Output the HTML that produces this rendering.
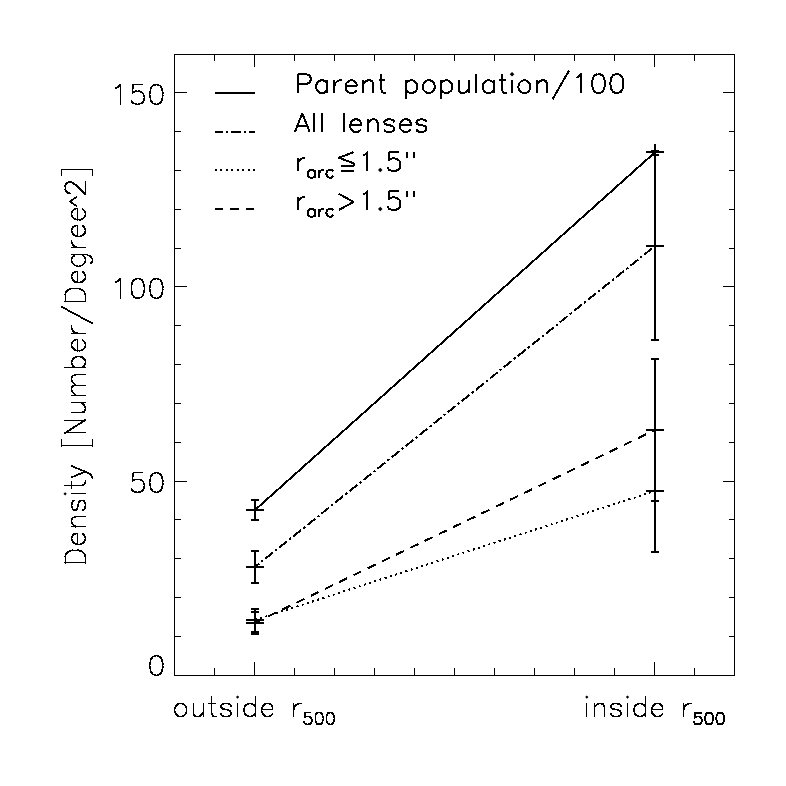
<!DOCTYPE html>
<html lang="en"><head><meta charset="utf-8"><title>Density vs r500</title>
<style>
html,body{margin:0;padding:0;background:#fff;}
body{width:786px;height:786px;overflow:hidden;font-family:"Liberation Sans",sans-serif;}
svg{display:block;}
svg text{font-family:"Liberation Sans",sans-serif;fill:#000;fill-opacity:0;stroke:none;}
</style></head><body>
<svg width="786" height="786" viewBox="0 0 786 786" role="img" aria-label="Density [Number/Degree^2] outside versus inside r500">
<rect width="786" height="786" fill="#fff"/>
<g stroke="#000" stroke-width="1" fill="none" shape-rendering="crispEdges">
<rect x="174.5" y="54.5" width="560.0" height="621.0"/>
<path d="M214.5 675.5 v-8 M214.5 54.5 v6 M254.5 675.5 v-14 M254.5 54.5 v12 M294.5 675.5 v-8 M294.5 54.5 v6 M334.5 675.5 v-8 M334.5 54.5 v6 M374.5 675.5 v-8 M374.5 54.5 v6 M414.5 675.5 v-8 M414.5 54.5 v6 M454.5 675.5 v-8 M454.5 54.5 v6 M494.5 675.5 v-8 M494.5 54.5 v6 M534.5 675.5 v-8 M534.5 54.5 v6 M574.5 675.5 v-8 M574.5 54.5 v6 M614.5 675.5 v-8 M614.5 54.5 v6 M654.5 675.5 v-14 M654.5 54.5 v12 M694.5 675.5 v-8 M694.5 54.5 v6 M174.5 636.5 h6 M734.5 636.5 h-6 M174.5 597.5 h6 M734.5 597.5 h-6 M174.5 558.5 h6 M734.5 558.5 h-6 M174.5 519.5 h6 M734.5 519.5 h-6 M174.5 481.5 h12 M734.5 481.5 h-12 M174.5 442.5 h6 M734.5 442.5 h-6 M174.5 403.5 h6 M734.5 403.5 h-6 M174.5 364.5 h6 M734.5 364.5 h-6 M174.5 325.5 h6 M734.5 325.5 h-6 M174.5 286.5 h12 M734.5 286.5 h-12 M174.5 248.5 h6 M734.5 248.5 h-6 M174.5 209.5 h6 M734.5 209.5 h-6 M174.5 170.5 h6 M734.5 170.5 h-6 M174.5 131.5 h6 M734.5 131.5 h-6 M174.5 92.5 h12 M734.5 92.5 h-12"/>
</g>
<g stroke="#000" stroke-width="2" fill="none" shape-rendering="crispEdges">
<path d="M255 510.0 L655 152.3"/>
<path d="M255 567.0 L655 246.0" stroke-dasharray="10 2.8 2.4 2.8" stroke-dashoffset="4.9"/>
<path d="M255 622.7 L655 430.0" stroke-dasharray="8.8 7" stroke-dashoffset="1.35"/>
<path d="M255 620.0 L655 491.0" stroke-dasharray="2 3.45" stroke-dashoffset="0"/>
<path d="M215 93 H255"/>
<path d="M215 132 H255" stroke-dasharray="10 2.8 2.4 2.8" stroke-dashoffset="2.2"/>
<path d="M215 170 H255" stroke-dasharray="2 3.45" stroke-dashoffset="0"/>
<path d="M215 209 H255" stroke-dasharray="8.8 7" stroke-dashoffset="1"/>
<path d="M246 510.0 h18 M255 502.0 v16 M255 500.0 V520.0 M251 500.0 h8 M251 520.0 h8 M646 152.3 h18 M655 144.3 v16 M655 150.70000000000002 V154.9 M651 150.70000000000002 h8 M651 154.9 h8 M246 567.0 h18 M255 559.0 v16 M255 550.7 V583.3 M251 550.7 h8 M251 583.3 h8 M646 246.0 h18 M655 238.0 v16 M655 152.0 V340.0 M651 152.0 h8 M651 340.0 h8 M246 622.7 h18 M255 614.7 v16 M255 611.9000000000001 V634.1 M251 611.9000000000001 h8 M251 634.1 h8 M646 430.0 h18 M655 422.0 v16 M655 359.0 V501.0 M651 359.0 h8 M651 501.0 h8 M246 620.0 h18 M255 612.0 v16 M255 608.6 V632.2 M251 608.6 h8 M251 632.2 h8 M646 491.0 h18 M655 483.0 v16 M655 430.0 V552.0 M651 430.0 h8 M651 552.0 h8"/>
</g>
<g stroke="#000" fill="none" stroke-linecap="square" stroke-linejoin="round" shape-rendering="crispEdges">
<path d="M114.97 87.7 116.83 86.77 118.17 86.77 118.17 88.12 116.32 89.05 114.97 89.05zM116.83 86.77 119.6 84 120.95 84 120.95 85.35 118.17 88.12 116.83 88.12zM119.83 84 121.17 84 121.17 104.77 119.83 104.77zM132.55 83.83 143.15 83.83 143.15 85.17 132.55 85.17zM131.62 92.33 132.55 84 133.9 84 133.9 85.35 132.97 93.67 131.62 93.67zM131.62 92.33 132.55 91.4 133.9 91.4 133.9 92.75 132.97 93.67 131.62 93.67zM132.55 91.4 135.32 90.47 136.68 90.47 136.68 91.82 133.9 92.75 132.55 92.75zM135.32 90.83 139.45 90.83 139.45 92.17 135.32 92.17zM138.1 90.47 139.45 90.47 142.23 91.4 142.23 92.75 140.88 92.75 138.1 91.82zM140.88 91.4 142.23 91.4 144.07 93.25 144.07 94.6 142.72 94.6 140.88 92.75zM142.72 93.25 144.07 93.25 145 96.02 145 97.37 143.65 97.37 142.72 94.6zM143.82 96.02 145.18 96.02 145.18 99.22 143.82 99.22zM142.72 100.65 143.65 97.88 145 97.88 145 99.22 144.07 102 142.72 102zM140.88 102.5 142.72 100.65 144.07 100.65 144.07 102 142.23 103.85 140.88 103.85zM138.1 103.42 140.88 102.5 142.23 102.5 142.23 103.85 139.45 104.77 138.1 104.77zM135.32 103.83 139.45 103.83 139.45 105.17 135.32 105.17zM132.55 102.5 133.9 102.5 136.68 103.42 136.68 104.77 135.32 104.77 132.55 103.85zM131.62 101.58 132.97 101.58 133.9 102.5 133.9 103.85 132.55 103.85 131.62 102.92zM130.7 99.72 132.05 99.72 132.97 101.58 132.97 102.92 131.62 102.92 130.7 101.07zM151.97 84.92 154.75 84 156.1 84 156.1 85.35 153.32 86.27 151.97 86.27zM150.12 87.7 151.97 84.92 153.32 84.92 153.32 86.27 151.48 89.05 150.12 89.05zM149.2 92.33 150.12 87.7 151.48 87.7 151.48 89.05 150.55 93.67 149.2 93.67zM148.82 92.33 150.18 92.33 150.18 96.45 148.82 96.45zM149.2 95.1 150.55 95.1 151.48 99.72 151.48 101.07 150.12 101.07 149.2 96.45zM150.12 99.72 151.48 99.72 153.32 102.5 153.32 103.85 151.97 103.85 150.12 101.07zM151.97 102.5 153.32 102.5 156.1 103.42 156.1 104.77 154.75 104.77 151.97 103.85zM154.75 103.83 157.95 103.83 157.95 105.17 154.75 105.17zM156.6 103.42 159.38 102.5 160.73 102.5 160.73 103.85 157.95 104.77 156.6 104.77zM159.38 102.5 161.22 99.72 162.57 99.72 162.57 101.07 160.73 103.85 159.38 103.85zM161.22 99.72 162.15 95.1 163.5 95.1 163.5 96.45 162.57 101.07 161.22 101.07zM161.82 92.33 163.18 92.33 163.18 96.45 161.82 96.45zM161.22 87.7 162.57 87.7 163.5 92.33 163.5 93.67 162.15 93.67 161.22 89.05zM159.38 84.92 160.73 84.92 162.57 87.7 162.57 89.05 161.22 89.05 159.38 86.27zM156.6 84 157.95 84 160.73 84.92 160.73 86.27 159.38 86.27 156.6 85.35zM154.75 83.83 157.95 83.83 157.95 85.17 154.75 85.17z" fill="#000" stroke="none"/>
<path d="M114.97 281.7 116.83 280.78 118.17 280.78 118.17 282.13 116.32 283.05 114.97 283.05zM116.83 280.78 119.6 278 120.95 278 120.95 279.35 118.17 282.13 116.83 282.13zM119.83 278 121.17 278 121.17 298.78 119.83 298.78zM133.47 278.93 136.25 278 137.6 278 137.6 279.35 134.83 280.28 133.47 280.28zM131.62 281.7 133.47 278.93 134.83 278.93 134.83 280.28 132.97 283.05 131.62 283.05zM130.7 286.32 131.62 281.7 132.97 281.7 132.97 283.05 132.05 287.68 130.7 287.68zM130.82 286.32 132.18 286.32 132.18 290.45 130.82 290.45zM130.7 289.1 132.05 289.1 132.97 293.73 132.97 295.08 131.62 295.08 130.7 290.45zM131.62 293.73 132.97 293.73 134.83 296.5 134.83 297.85 133.47 297.85 131.62 295.08zM133.47 296.5 134.83 296.5 137.6 297.43 137.6 298.78 136.25 298.78 133.47 297.85zM136.25 297.82 139.45 297.82 139.45 299.18 136.25 299.18zM138.1 297.43 140.88 296.5 142.23 296.5 142.23 297.85 139.45 298.78 138.1 298.78zM140.88 296.5 142.72 293.73 144.07 293.73 144.07 295.08 142.23 297.85 140.88 297.85zM142.72 293.73 143.65 289.1 145 289.1 145 290.45 144.07 295.08 142.72 295.08zM143.82 286.32 145.18 286.32 145.18 290.45 143.82 290.45zM142.72 281.7 144.07 281.7 145 286.32 145 287.68 143.65 287.68 142.72 283.05zM140.88 278.93 142.23 278.93 144.07 281.7 144.07 283.05 142.72 283.05 140.88 280.28zM138.1 278 139.45 278 142.23 278.93 142.23 280.28 140.88 280.28 138.1 279.35zM136.25 277.82 139.45 277.82 139.45 279.18 136.25 279.18zM151.97 278.93 154.75 278 156.1 278 156.1 279.35 153.32 280.28 151.97 280.28zM150.12 281.7 151.97 278.93 153.32 278.93 153.32 280.28 151.48 283.05 150.12 283.05zM149.2 286.32 150.12 281.7 151.48 281.7 151.48 283.05 150.55 287.68 149.2 287.68zM148.82 286.32 150.18 286.32 150.18 290.45 148.82 290.45zM149.2 289.1 150.55 289.1 151.48 293.73 151.48 295.08 150.12 295.08 149.2 290.45zM150.12 293.73 151.48 293.73 153.32 296.5 153.32 297.85 151.97 297.85 150.12 295.08zM151.97 296.5 153.32 296.5 156.1 297.43 156.1 298.78 154.75 298.78 151.97 297.85zM154.75 297.82 157.95 297.82 157.95 299.18 154.75 299.18zM156.6 297.43 159.38 296.5 160.73 296.5 160.73 297.85 157.95 298.78 156.6 298.78zM159.38 296.5 161.22 293.73 162.57 293.73 162.57 295.08 160.73 297.85 159.38 297.85zM161.22 293.73 162.15 289.1 163.5 289.1 163.5 290.45 162.57 295.08 161.22 295.08zM161.82 286.32 163.18 286.32 163.18 290.45 161.82 290.45zM161.22 281.7 162.57 281.7 163.5 286.32 163.5 287.68 162.15 287.68 161.22 283.05zM159.38 278.93 160.73 278.93 162.57 281.7 162.57 283.05 161.22 283.05 159.38 280.28zM156.6 278 157.95 278 160.73 278.93 160.73 280.28 159.38 280.28 156.6 279.35zM154.75 277.82 157.95 277.82 157.95 279.18 154.75 279.18z" fill="#000" stroke="none"/>
<path d="M132.55 471.82 143.15 471.82 143.15 473.18 132.55 473.18zM131.62 480.42 132.55 472.1 133.9 472.1 133.9 473.45 132.97 481.77 131.62 481.77zM131.62 480.42 132.55 479.5 133.9 479.5 133.9 480.85 132.97 481.77 131.62 481.77zM132.55 479.5 135.32 478.57 136.68 478.57 136.68 479.93 133.9 480.85 132.55 480.85zM135.32 478.82 139.45 478.82 139.45 480.18 135.32 480.18zM138.1 478.57 139.45 478.57 142.22 479.5 142.22 480.85 140.87 480.85 138.1 479.93zM140.87 479.5 142.22 479.5 144.08 481.35 144.08 482.7 142.72 482.7 140.87 480.85zM142.72 481.35 144.08 481.35 145 484.12 145 485.48 143.65 485.48 142.72 482.7zM143.82 484.12 145.18 484.12 145.18 487.32 143.82 487.32zM142.72 488.75 143.65 485.97 145 485.97 145 487.32 144.08 490.1 142.72 490.1zM140.87 490.6 142.72 488.75 144.08 488.75 144.08 490.1 142.22 491.95 140.87 491.95zM138.1 491.52 140.87 490.6 142.22 490.6 142.22 491.95 139.45 492.88 138.1 492.88zM135.32 491.82 139.45 491.82 139.45 493.18 135.32 493.18zM132.55 490.6 133.9 490.6 136.68 491.52 136.68 492.88 135.32 492.88 132.55 491.95zM131.62 489.67 132.97 489.67 133.9 490.6 133.9 491.95 132.55 491.95 131.62 491.02zM130.7 487.82 132.05 487.82 132.97 489.67 132.97 491.02 131.62 491.02 130.7 489.18zM151.97 473.02 154.75 472.1 156.1 472.1 156.1 473.45 153.33 474.38 151.97 474.38zM150.12 475.8 151.97 473.02 153.33 473.02 153.33 474.38 151.47 477.15 150.12 477.15zM149.2 480.42 150.12 475.8 151.47 475.8 151.47 477.15 150.55 481.77 149.2 481.77zM148.82 480.42 150.18 480.42 150.18 484.55 148.82 484.55zM149.2 483.2 150.55 483.2 151.47 487.82 151.47 489.18 150.12 489.18 149.2 484.55zM150.12 487.82 151.47 487.82 153.33 490.6 153.33 491.95 151.97 491.95 150.12 489.18zM151.97 490.6 153.33 490.6 156.1 491.52 156.1 492.88 154.75 492.88 151.97 491.95zM154.75 491.82 157.95 491.82 157.95 493.18 154.75 493.18zM156.6 491.52 159.38 490.6 160.73 490.6 160.73 491.95 157.95 492.88 156.6 492.88zM159.38 490.6 161.22 487.82 162.57 487.82 162.57 489.18 160.73 491.95 159.38 491.95zM161.22 487.82 162.15 483.2 163.5 483.2 163.5 484.55 162.57 489.18 161.22 489.18zM161.82 480.42 163.18 480.42 163.18 484.55 161.82 484.55zM161.22 475.8 162.57 475.8 163.5 480.42 163.5 481.77 162.15 481.77 161.22 477.15zM159.38 473.02 160.73 473.02 162.57 475.8 162.57 477.15 161.22 477.15 159.38 474.38zM156.6 472.1 157.95 472.1 160.73 473.02 160.73 474.38 159.38 474.38 156.6 473.45zM154.75 471.82 157.95 471.82 157.95 473.18 154.75 473.18z" fill="#000" stroke="none"/>
<path d="M151.97 656.03 154.75 655.1 156.1 655.1 156.1 656.45 153.33 657.38 151.97 657.38zM150.12 658.8 151.97 656.03 153.33 656.03 153.33 657.38 151.47 660.15 150.12 660.15zM149.2 663.43 150.12 658.8 151.47 658.8 151.47 660.15 150.55 664.77 149.2 664.77zM148.82 663.43 150.18 663.43 150.18 667.55 148.82 667.55zM149.2 666.2 150.55 666.2 151.47 670.83 151.47 672.17 150.12 672.17 149.2 667.55zM150.12 670.83 151.47 670.83 153.33 673.6 153.33 674.95 151.97 674.95 150.12 672.17zM151.97 673.6 153.33 673.6 156.1 674.53 156.1 675.88 154.75 675.88 151.97 674.95zM154.75 674.83 157.95 674.83 157.95 676.17 154.75 676.17zM156.6 674.53 159.37 673.6 160.72 673.6 160.72 674.95 157.95 675.88 156.6 675.88zM159.37 673.6 161.22 670.83 162.58 670.83 162.58 672.17 160.72 674.95 159.37 674.95zM161.22 670.83 162.15 666.2 163.5 666.2 163.5 667.55 162.58 672.17 161.22 672.17zM161.82 663.43 163.18 663.43 163.18 667.55 161.82 667.55zM161.22 658.8 162.58 658.8 163.5 663.43 163.5 664.77 162.15 664.77 161.22 660.15zM159.37 656.03 160.72 656.03 162.58 658.8 162.58 660.15 161.22 660.15 159.37 657.38zM156.6 655.1 157.95 655.1 160.72 656.03 160.72 657.38 159.37 657.38 156.6 656.45zM154.75 654.83 157.95 654.83 157.95 656.17 154.75 656.17z" fill="#000" stroke="none"/>
<path d="M176.77 703.8 178.62 702.88 179.97 702.88 179.97 704.22 178.12 705.15 176.77 705.15zM174.92 705.65 176.77 703.8 178.12 703.8 178.12 705.15 176.27 707 174.92 707zM174 708.43 174.92 705.65 176.27 705.65 176.27 707 175.35 709.77 174 709.77zM173.82 708.43 175.18 708.43 175.18 711.62 173.82 711.62zM174 710.28 175.35 710.28 176.27 713.05 176.27 714.4 174.92 714.4 174 711.62zM174.92 713.05 176.27 713.05 178.12 714.9 178.12 716.25 176.77 716.25 174.92 714.4zM176.77 714.9 178.12 714.9 179.97 715.83 179.97 717.17 178.62 717.17 176.77 716.25zM178.62 715.83 182.75 715.83 182.75 717.17 178.62 717.17zM181.4 715.83 183.25 714.9 184.6 714.9 184.6 716.25 182.75 717.17 181.4 717.17zM183.25 714.9 185.1 713.05 186.45 713.05 186.45 714.4 184.6 716.25 183.25 716.25zM185.1 713.05 186.02 710.28 187.37 710.28 187.37 711.62 186.45 714.4 185.1 714.4zM185.82 708.43 187.18 708.43 187.18 711.62 185.82 711.62zM185.1 705.65 186.45 705.65 187.37 708.43 187.37 709.77 186.02 709.77 185.1 707zM183.25 703.8 184.6 703.8 186.45 705.65 186.45 707 185.1 707 183.25 705.15zM181.4 702.88 182.75 702.88 184.6 703.8 184.6 705.15 183.25 705.15 181.4 704.22zM178.62 702.83 182.75 702.83 182.75 704.17 178.62 704.17zM192.82 702.88 194.18 702.88 194.18 713.47 192.82 713.47zM192.5 712.12 193.85 712.12 194.77 714.9 194.77 716.25 193.42 716.25 192.5 713.47zM193.42 714.9 194.77 714.9 196.62 715.83 196.62 717.17 195.27 717.17 193.42 716.25zM195.27 715.83 199.4 715.83 199.4 717.17 195.27 717.17zM198.05 715.83 199.9 714.9 201.25 714.9 201.25 716.25 199.4 717.17 198.05 717.17zM199.9 714.9 202.67 712.12 204.02 712.12 204.02 713.47 201.25 716.25 199.9 716.25zM202.82 702.88 204.18 702.88 204.18 717.17 202.82 717.17zM210.82 696.4 212.18 696.4 212.18 713.47 210.82 713.47zM211 712.12 212.35 712.12 213.27 714.9 213.27 716.25 211.92 716.25 211 713.47zM211.92 714.9 213.27 714.9 215.12 715.83 215.12 717.17 213.77 717.17 211.92 716.25zM213.77 715.83 216.97 715.83 216.97 717.17 213.77 717.17zM208.22 702.83 216.05 702.83 216.05 704.17 208.22 704.17zM229.5 703.8 230.85 703.8 231.77 705.65 231.77 707 230.42 707 229.5 705.15zM226.72 702.88 228.07 702.88 230.85 703.8 230.85 705.15 229.5 705.15 226.72 704.22zM223.95 702.83 228.07 702.83 228.07 704.17 223.95 704.17zM221.17 703.8 223.95 702.88 225.3 702.88 225.3 704.22 222.52 705.15 221.17 705.15zM220.25 705.65 221.17 703.8 222.52 703.8 222.52 705.15 221.6 707 220.25 707zM220.25 705.65 221.6 705.65 222.52 707.5 222.52 708.85 221.17 708.85 220.25 707zM221.17 707.5 222.52 707.5 224.37 708.43 224.37 709.77 223.02 709.77 221.17 708.85zM223.02 708.43 224.37 708.43 229 709.35 229 710.7 227.65 710.7 223.02 709.77zM227.65 709.35 229 709.35 230.85 710.28 230.85 711.62 229.5 711.62 227.65 710.7zM229.5 710.28 230.85 710.28 231.77 712.12 231.77 713.47 230.42 713.47 229.5 711.62zM230.82 712.12 232.18 712.12 232.18 714.4 230.82 714.4zM229.5 714.9 230.42 713.05 231.77 713.05 231.77 714.4 230.85 716.25 229.5 716.25zM226.72 715.83 229.5 714.9 230.85 714.9 230.85 716.25 228.07 717.17 226.72 717.17zM223.95 715.83 228.07 715.83 228.07 717.17 223.95 717.17zM221.17 714.9 222.52 714.9 225.3 715.83 225.3 717.17 223.95 717.17 221.17 716.25zM220.25 713.05 221.6 713.05 222.52 714.9 222.52 716.25 221.17 716.25 220.25 714.4zM236.82 702.88 238.18 702.88 238.18 717.17 236.82 717.17zM254.82 696.4 256.18 696.4 256.18 717.17 254.82 717.17zM252.62 703.8 253.97 703.8 255.82 705.65 255.82 707 254.47 707 252.62 705.15zM250.77 702.88 252.12 702.88 253.97 703.8 253.97 705.15 252.62 705.15 250.77 704.22zM248 702.83 252.12 702.83 252.12 704.17 248 704.17zM246.15 703.8 248 702.88 249.35 702.88 249.35 704.22 247.5 705.15 246.15 705.15zM244.3 705.65 246.15 703.8 247.5 703.8 247.5 705.15 245.65 707 244.3 707zM243.37 708.43 244.3 705.65 245.65 705.65 245.65 707 244.72 709.77 243.37 709.77zM243.82 708.43 245.18 708.43 245.18 711.62 243.82 711.62zM243.37 710.28 244.72 710.28 245.65 713.05 245.65 714.4 244.3 714.4 243.37 711.62zM244.3 713.05 245.65 713.05 247.5 714.9 247.5 716.25 246.15 716.25 244.3 714.4zM246.15 714.9 247.5 714.9 249.35 715.83 249.35 717.17 248 717.17 246.15 716.25zM248 715.83 252.12 715.83 252.12 717.17 248 717.17zM250.77 715.83 252.62 714.9 253.97 714.9 253.97 716.25 252.12 717.17 250.77 717.17zM252.62 714.9 254.47 713.05 255.82 713.05 255.82 714.4 253.97 716.25 252.62 716.25zM260.95 708.83 273.4 708.83 273.4 710.17 260.95 710.17zM271.82 706.58 273.18 706.58 273.18 709.77 271.82 709.77zM271.12 704.73 272.47 704.73 273.4 706.58 273.4 707.92 272.05 707.92 271.12 706.07zM270.2 703.8 271.55 703.8 272.47 704.73 272.47 706.07 271.12 706.07 270.2 705.15zM268.35 702.88 269.7 702.88 271.55 703.8 271.55 705.15 270.2 705.15 268.35 704.22zM265.57 702.83 269.7 702.83 269.7 704.17 265.57 704.17zM263.72 703.8 265.57 702.88 266.92 702.88 266.92 704.22 265.07 705.15 263.72 705.15zM261.87 705.65 263.72 703.8 265.07 703.8 265.07 705.15 263.22 707 261.87 707zM260.95 708.43 261.87 705.65 263.22 705.65 263.22 707 262.3 709.77 260.95 709.77zM260.82 708.43 262.18 708.43 262.18 711.62 260.82 711.62zM260.95 710.28 262.3 710.28 263.22 713.05 263.22 714.4 261.87 714.4 260.95 711.62zM261.87 713.05 263.22 713.05 265.07 714.9 265.07 716.25 263.72 716.25 261.87 714.4zM263.72 714.9 265.07 714.9 266.92 715.83 266.92 717.17 265.57 717.17 263.72 716.25zM265.57 715.83 269.7 715.83 269.7 717.17 265.57 717.17zM268.35 715.83 270.2 714.9 271.55 714.9 271.55 716.25 269.7 717.17 268.35 717.17zM270.2 714.9 272.05 713.05 273.4 713.05 273.4 714.4 271.55 716.25 270.2 716.25zM292.82 702.88 294.18 702.88 294.18 717.17 292.82 717.17zM293.32 708.43 294.25 705.65 295.6 705.65 295.6 707 294.67 709.77 293.32 709.77zM294.25 705.65 296.1 703.8 297.45 703.8 297.45 705.15 295.6 707 294.25 707zM296.1 703.8 297.95 702.88 299.3 702.88 299.3 704.22 297.45 705.15 296.1 705.15zM297.95 702.83 302.07 702.83 302.07 704.17 297.95 704.17zM304.45 711.83 311.39 711.83 311.39 713.17 304.45 713.17zM303.89 716.91 304.45 711.87 305.8 711.87 305.8 713.22 305.24 718.26 303.89 718.26zM303.89 716.91 304.45 716.35 305.8 716.35 305.8 717.7 305.24 718.26 303.89 718.26zM304.45 716.35 306.13 715.79 307.48 715.79 307.48 717.14 305.8 717.7 304.45 717.7zM306.13 715.83 309.15 715.83 309.15 717.17 306.13 717.17zM307.8 715.79 309.15 715.79 310.83 716.35 310.83 717.7 309.48 717.7 307.8 717.14zM309.48 716.35 310.83 716.35 311.95 717.47 311.95 718.82 310.6 718.82 309.48 717.7zM310.6 717.47 311.95 717.47 312.51 719.15 312.51 720.5 311.16 720.5 310.6 718.82zM310.82 719.15 312.18 719.15 312.18 721.62 310.82 721.62zM310.6 721.95 311.16 720.27 312.51 720.27 312.51 721.62 311.95 723.3 310.6 723.3zM309.48 723.07 310.6 721.95 311.95 721.95 311.95 723.3 310.83 724.42 309.48 724.42zM307.8 723.62 309.48 723.07 310.83 723.07 310.83 724.42 309.15 724.97 307.8 724.97zM306.13 723.83 309.15 723.83 309.15 725.17 306.13 725.17zM304.45 723.07 305.8 723.07 307.48 723.62 307.48 724.97 306.13 724.97 304.45 724.42zM303.89 722.51 305.24 722.51 305.8 723.07 305.8 724.42 304.45 724.42 303.89 723.86zM303.33 721.39 304.68 721.39 305.24 722.51 305.24 723.86 303.89 723.86 303.33 722.74zM316.2 712.43 317.88 711.87 319.23 711.87 319.23 713.22 317.55 713.78 316.2 713.78zM315.08 714.11 316.2 712.43 317.55 712.43 317.55 713.78 316.43 715.46 315.08 715.46zM314.52 716.91 315.08 714.11 316.43 714.11 316.43 715.46 315.87 718.26 314.52 718.26zM314.82 716.91 316.18 716.91 316.18 719.94 314.82 719.94zM314.52 718.59 315.87 718.59 316.43 721.39 316.43 722.74 315.08 722.74 314.52 719.94zM315.08 721.39 316.43 721.39 317.55 723.07 317.55 724.42 316.2 724.42 315.08 722.74zM316.2 723.07 317.55 723.07 319.23 723.62 319.23 724.97 317.88 724.97 316.2 724.42zM317.88 723.83 320.35 723.83 320.35 725.17 317.88 725.17zM319 723.62 320.68 723.07 322.03 723.07 322.03 724.42 320.35 724.97 319 724.97zM320.68 723.07 321.8 721.39 323.15 721.39 323.15 722.74 322.03 724.42 320.68 724.42zM321.8 721.39 322.35 718.59 323.7 718.59 323.7 719.94 323.15 722.74 321.8 722.74zM322.82 716.91 324.18 716.91 324.18 719.94 322.82 719.94zM321.8 714.11 323.15 714.11 323.7 716.91 323.7 718.26 322.35 718.26 321.8 715.46zM320.68 712.43 322.03 712.43 323.15 714.11 323.15 715.46 321.8 715.46 320.68 713.78zM319 711.87 320.35 711.87 322.03 712.43 322.03 713.78 320.68 713.78 319 713.22zM317.88 711.83 320.35 711.83 320.35 713.17 317.88 713.17zM327.39 712.43 329.07 711.87 330.42 711.87 330.42 713.22 328.74 713.78 327.39 713.78zM326.27 714.11 327.39 712.43 328.74 712.43 328.74 713.78 327.62 715.46 326.27 715.46zM325.71 716.91 326.27 714.11 327.62 714.11 327.62 715.46 327.06 718.26 325.71 718.26zM325.82 716.91 327.18 716.91 327.18 719.94 325.82 719.94zM325.71 718.59 327.06 718.59 327.62 721.39 327.62 722.74 326.27 722.74 325.71 719.94zM326.27 721.39 327.62 721.39 328.74 723.07 328.74 724.42 327.39 724.42 326.27 722.74zM327.39 723.07 328.74 723.07 330.42 723.62 330.42 724.97 329.07 724.97 327.39 724.42zM329.07 723.83 331.54 723.83 331.54 725.17 329.07 725.17zM330.19 723.62 331.87 723.07 333.22 723.07 333.22 724.42 331.54 724.97 330.19 724.97zM331.87 723.07 332.99 721.39 334.34 721.39 334.34 722.74 333.22 724.42 331.87 724.42zM332.99 721.39 333.55 718.59 334.9 718.59 334.9 719.94 334.34 722.74 332.99 722.74zM333.82 716.91 335.18 716.91 335.18 719.94 333.82 719.94zM332.99 714.11 334.34 714.11 334.9 716.91 334.9 718.26 333.55 718.26 332.99 715.46zM331.87 712.43 333.22 712.43 334.34 714.11 334.34 715.46 332.99 715.46 331.87 713.78zM330.19 711.87 331.54 711.87 333.22 712.43 333.22 713.78 331.87 713.78 330.19 713.22zM329.07 711.83 331.54 711.83 331.54 713.17 329.07 713.17z" fill="#000" stroke="none"/><path d="M235.95 697.08 l1.63 -1.63 l1.63 1.63 l-1.63 1.63 z" fill="#000" stroke="none" shape-rendering="auto"/>
<path d="M585.83 702.88 587.17 702.88 587.17 717.17 585.83 717.17zM593.83 702.88 595.17 702.88 595.17 717.17 593.83 717.17zM593.53 706.58 596.3 703.8 597.65 703.8 597.65 705.15 594.88 707.92 593.53 707.92zM596.3 703.8 598.15 702.88 599.5 702.88 599.5 704.22 597.65 705.15 596.3 705.15zM598.15 702.83 602.27 702.83 602.27 704.17 598.15 704.17zM600.93 702.88 602.27 702.88 604.12 703.8 604.12 705.15 602.78 705.15 600.93 704.22zM602.78 703.8 604.12 703.8 605.05 706.58 605.05 707.92 603.7 707.92 602.78 705.15zM603.83 706.58 605.17 706.58 605.17 717.17 603.83 717.17zM619.43 703.8 620.77 703.8 621.7 705.65 621.7 707 620.35 707 619.43 705.15zM616.65 702.88 618 702.88 620.77 703.8 620.77 705.15 619.43 705.15 616.65 704.22zM613.88 702.83 618 702.83 618 704.17 613.88 704.17zM611.1 703.8 613.88 702.88 615.23 702.88 615.23 704.22 612.45 705.15 611.1 705.15zM610.18 705.65 611.1 703.8 612.45 703.8 612.45 705.15 611.52 707 610.18 707zM610.18 705.65 611.52 705.65 612.45 707.5 612.45 708.85 611.1 708.85 610.18 707zM611.1 707.5 612.45 707.5 614.3 708.43 614.3 709.77 612.95 709.77 611.1 708.85zM612.95 708.43 614.3 708.43 618.92 709.35 618.92 710.7 617.58 710.7 612.95 709.77zM617.58 709.35 618.92 709.35 620.77 710.28 620.77 711.62 619.43 711.62 617.58 710.7zM619.43 710.28 620.77 710.28 621.7 712.12 621.7 713.47 620.35 713.47 619.43 711.62zM620.83 712.12 622.17 712.12 622.17 714.4 620.83 714.4zM619.43 714.9 620.35 713.05 621.7 713.05 621.7 714.4 620.77 716.25 619.43 716.25zM616.65 715.83 619.43 714.9 620.77 714.9 620.77 716.25 618 717.17 616.65 717.17zM613.88 715.83 618 715.83 618 717.17 613.88 717.17zM611.1 714.9 612.45 714.9 615.23 715.83 615.23 717.17 613.88 717.17 611.1 716.25zM610.18 713.05 611.52 713.05 612.45 714.9 612.45 716.25 611.1 716.25 610.18 714.4zM626.83 702.88 628.17 702.88 628.17 717.17 626.83 717.17zM644.83 696.4 646.17 696.4 646.17 717.17 644.83 717.17zM642.55 703.8 643.9 703.8 645.75 705.65 645.75 707 644.4 707 642.55 705.15zM640.7 702.88 642.05 702.88 643.9 703.8 643.9 705.15 642.55 705.15 640.7 704.22zM637.93 702.83 642.05 702.83 642.05 704.17 637.93 704.17zM636.08 703.8 637.93 702.88 639.27 702.88 639.27 704.22 637.42 705.15 636.08 705.15zM634.23 705.65 636.08 703.8 637.42 703.8 637.42 705.15 635.57 707 634.23 707zM633.3 708.43 634.23 705.65 635.57 705.65 635.57 707 634.65 709.77 633.3 709.77zM632.83 708.43 634.17 708.43 634.17 711.62 632.83 711.62zM633.3 710.28 634.65 710.28 635.57 713.05 635.57 714.4 634.23 714.4 633.3 711.62zM634.23 713.05 635.57 713.05 637.42 714.9 637.42 716.25 636.08 716.25 634.23 714.4zM636.08 714.9 637.42 714.9 639.27 715.83 639.27 717.17 637.93 717.17 636.08 716.25zM637.93 715.83 642.05 715.83 642.05 717.17 637.93 717.17zM640.7 715.83 642.55 714.9 643.9 714.9 643.9 716.25 642.05 717.17 640.7 717.17zM642.55 714.9 644.4 713.05 645.75 713.05 645.75 714.4 643.9 716.25 642.55 716.25zM650.88 708.83 663.32 708.83 663.32 710.17 650.88 710.17zM661.83 706.58 663.17 706.58 663.17 709.77 661.83 709.77zM661.05 704.73 662.4 704.73 663.32 706.58 663.32 707.92 661.98 707.92 661.05 706.07zM660.13 703.8 661.48 703.8 662.4 704.73 662.4 706.07 661.05 706.07 660.13 705.15zM658.28 702.88 659.62 702.88 661.48 703.8 661.48 705.15 660.13 705.15 658.28 704.22zM655.5 702.83 659.62 702.83 659.62 704.17 655.5 704.17zM653.65 703.8 655.5 702.88 656.85 702.88 656.85 704.22 655 705.15 653.65 705.15zM651.8 705.65 653.65 703.8 655 703.8 655 705.15 653.15 707 651.8 707zM650.88 708.43 651.8 705.65 653.15 705.65 653.15 707 652.23 709.77 650.88 709.77zM650.83 708.43 652.17 708.43 652.17 711.62 650.83 711.62zM650.88 710.28 652.23 710.28 653.15 713.05 653.15 714.4 651.8 714.4 650.88 711.62zM651.8 713.05 653.15 713.05 655 714.9 655 716.25 653.65 716.25 651.8 714.4zM653.65 714.9 655 714.9 656.85 715.83 656.85 717.17 655.5 717.17 653.65 716.25zM655.5 715.83 659.62 715.83 659.62 717.17 655.5 717.17zM658.28 715.83 660.13 714.9 661.48 714.9 661.48 716.25 659.62 717.17 658.28 717.17zM660.13 714.9 661.98 713.05 663.32 713.05 663.32 714.4 661.48 716.25 660.13 716.25zM682.83 702.88 684.17 702.88 684.17 717.17 682.83 717.17zM683.25 708.43 684.18 705.65 685.52 705.65 685.52 707 684.6 709.77 683.25 709.77zM684.18 705.65 686.03 703.8 687.38 703.8 687.38 705.15 685.52 707 684.18 707zM686.03 703.8 687.88 702.88 689.23 702.88 689.23 704.22 687.38 705.15 686.03 705.15zM687.88 702.83 692 702.83 692 704.17 687.88 704.17z" fill="#000" stroke="none"/><path d="M585.17 697.08 l1.63 -1.63 l1.63 1.63 l-1.63 1.63 z" fill="#000" stroke="none" shape-rendering="auto"/><path d="M625.87 697.08 l1.63 -1.63 l1.63 1.63 l-1.63 1.63 z" fill="#000" stroke="none" shape-rendering="auto"/>
<path d="M700.64 712.55 L695.05 712.55 L694.49 717.58 L695.05 717.02 L696.73 716.47 L698.41 716.47 L700.08 717.02 L701.2 718.14 L701.76 719.82 L701.76 720.94 L701.2 722.62 L700.08 723.74 L698.41 724.3 L696.73 724.3 L695.05 723.74 L694.49 723.18 L693.93 722.06 M708.48 712.55 L706.8 713.11 L705.68 714.79 L705.12 717.58 L705.12 719.26 L705.68 722.06 L706.8 723.74 L708.48 724.3 L709.6 724.3 L711.28 723.74 L712.4 722.06 L712.96 719.26 L712.96 717.58 L712.4 714.79 L711.28 713.11 L709.6 712.55 L708.48 712.55 M719.67 712.55 L717.99 713.11 L716.87 714.79 L716.31 717.58 L716.31 719.26 L716.87 722.06 L717.99 723.74 L719.67 724.3 L720.79 724.3 L722.47 723.74 L723.59 722.06 L724.15 719.26 L724.15 717.58 L723.59 714.79 L722.47 713.11 L720.79 712.55 L719.67 712.55" stroke-width="1.9"/>
<path d="M64.43 561.83 85.97 561.83 85.97 563.17 64.43 563.17zM64.83 555.82 66.17 555.82 66.17 563.62 64.83 563.62zM64.43 555.82 65.39 553.05 66.74 553.05 66.74 554.4 65.78 557.17 64.43 557.17zM65.39 553.05 67.32 551.21 68.67 551.21 68.67 552.56 66.74 554.4 65.39 554.4zM67.32 551.21 69.24 550.29 70.59 550.29 70.59 551.64 68.67 552.56 67.32 552.56zM69.24 550.29 72.12 549.36 73.47 549.36 73.47 550.71 70.59 551.64 69.24 551.64zM72.12 549.83 78.28 549.83 78.28 551.17 72.12 551.17zM76.93 549.36 78.28 549.36 81.17 550.29 81.17 551.64 79.82 551.64 76.93 550.71zM79.82 550.29 81.17 550.29 83.09 551.21 83.09 552.56 81.74 552.56 79.82 551.64zM81.74 551.21 83.09 551.21 85.01 553.05 85.01 554.4 83.66 554.4 81.74 552.56zM83.66 553.05 85.01 553.05 85.97 555.82 85.97 557.17 84.62 557.17 83.66 554.4zM84.83 555.82 86.17 555.82 86.17 563.62 84.83 563.62zM76.83 532.77 78.17 532.77 78.17 545.18 76.83 545.18zM75.01 532.83 78.28 532.83 78.28 534.17 75.01 534.17zM73.09 533.69 75.01 532.77 76.36 532.77 76.36 534.12 74.44 535.04 73.09 535.04zM72.12 534.61 73.09 533.69 74.44 533.69 74.44 535.04 73.47 535.96 72.12 535.96zM71.16 536.46 72.12 534.61 73.47 534.61 73.47 535.96 72.51 537.81 71.16 537.81zM70.83 536.46 72.17 536.46 72.17 540.57 70.83 540.57zM71.16 539.22 72.51 539.22 73.47 541.07 73.47 542.42 72.12 542.42 71.16 540.57zM72.12 541.07 73.47 541.07 75.4 542.91 75.4 544.26 74.05 544.26 72.12 542.42zM74.05 542.91 75.4 542.91 78.28 543.83 78.28 545.18 76.93 545.18 74.05 544.26zM76.93 543.83 80.21 543.83 80.21 545.17 76.93 545.17zM78.86 543.83 81.74 542.91 83.09 542.91 83.09 544.26 80.21 545.18 78.86 545.18zM81.74 542.91 83.66 541.07 85.01 541.07 85.01 542.42 83.09 544.26 81.74 544.26zM83.66 541.07 84.62 539.22 85.97 539.22 85.97 540.57 85.01 542.42 83.66 542.42zM84.83 536.46 86.17 536.46 86.17 540.57 84.83 540.57zM83.66 534.61 85.01 534.61 85.97 536.46 85.97 537.81 84.62 537.81 83.66 535.96zM81.74 532.77 83.09 532.77 85.01 534.61 85.01 535.96 83.66 535.96 81.74 534.12zM71.16 525.83 85.97 525.83 85.97 527.17 71.16 527.17zM72.12 523.55 73.47 523.55 76.36 526.31 76.36 527.66 75.01 527.66 72.12 524.9zM71.16 521.7 72.51 521.7 73.47 523.55 73.47 524.9 72.12 524.9 71.16 523.05zM70.83 518.94 72.17 518.94 72.17 523.05 70.83 523.05zM71.16 518.94 72.12 517.09 73.47 517.09 73.47 518.44 72.51 520.29 71.16 520.29zM72.12 517.09 75.01 516.17 76.36 516.17 76.36 517.52 73.47 518.44 72.12 518.44zM75.01 515.83 85.97 515.83 85.97 517.17 75.01 517.17zM72.12 500.5 74.05 499.58 75.4 499.58 75.4 500.93 73.47 501.85 72.12 501.85zM71.16 503.26 72.12 500.5 73.47 500.5 73.47 501.85 72.51 504.61 71.16 504.61zM70.83 503.26 72.17 503.26 72.17 507.38 70.83 507.38zM71.16 506.03 72.51 506.03 73.47 508.8 73.47 510.15 72.12 510.15 71.16 507.38zM72.12 508.8 73.47 508.8 75.4 509.72 75.4 511.07 74.05 511.07 72.12 510.15zM74.05 509.72 75.97 508.8 77.32 508.8 77.32 510.15 75.4 511.07 74.05 511.07zM75.97 508.8 76.93 506.95 78.28 506.95 78.28 508.3 77.32 510.15 75.97 510.15zM76.93 506.95 77.89 502.34 79.24 502.34 79.24 503.69 78.28 508.3 76.93 508.3zM77.89 502.34 78.86 500.5 80.21 500.5 80.21 501.85 79.24 503.69 77.89 503.69zM78.86 500.5 80.78 499.58 82.13 499.58 82.13 500.93 80.21 501.85 78.86 501.85zM80.78 499.82 83.09 499.82 83.09 501.18 80.78 501.18zM81.74 499.58 83.09 499.58 85.01 500.5 85.01 501.85 83.66 501.85 81.74 500.93zM83.66 500.5 85.01 500.5 85.97 503.26 85.97 504.61 84.62 504.61 83.66 501.85zM84.83 503.26 86.17 503.26 86.17 507.38 84.83 507.38zM83.66 508.8 84.62 506.03 85.97 506.03 85.97 507.38 85.01 510.15 83.66 510.15zM81.74 509.72 83.66 508.8 85.01 508.8 85.01 510.15 83.09 511.07 81.74 511.07zM71.16 492.82 85.97 492.82 85.97 494.18 71.16 494.18zM64.43 484.82 82.13 484.82 82.13 486.18 64.43 486.18zM80.78 484.82 83.66 483.9 85.01 483.9 85.01 485.25 82.13 486.17 80.78 486.17zM83.66 483.9 84.62 482.06 85.97 482.06 85.97 483.41 85.01 485.25 83.66 485.25zM84.83 480.21 86.17 480.21 86.17 483.41 84.83 483.41zM70.83 481.14 72.17 481.14 72.17 488.94 70.83 488.94zM71.16 476.53 84.62 470.99 85.97 470.99 85.97 472.34 72.51 477.88 71.16 477.88zM71.16 465.46 72.51 465.46 85.97 470.99 85.97 472.34 84.62 472.34 71.16 466.81zM84.62 470.99 85.97 470.99 89.82 472.84 89.82 474.19 88.47 474.19 84.62 472.34zM88.47 472.84 89.82 472.84 91.74 474.68 91.74 476.03 90.39 476.03 88.47 474.19zM90.39 474.68 91.74 474.68 92.71 476.53 92.71 477.88 91.36 477.88 90.39 476.03zM91.83 476.53 93.17 476.53 93.17 478.8 91.83 478.8zM60.58 444.82 92.71 444.82 92.71 446.18 60.58 446.18zM60.83 438.72 62.17 438.72 62.17 446.53 60.83 446.53zM91.83 438.72 93.17 438.72 93.17 446.53 91.83 446.53zM64.43 431.82 85.97 431.82 85.97 433.18 64.43 433.18zM64.43 432.27 84.62 419.36 85.97 419.36 85.97 420.71 65.78 433.62 64.43 433.62zM64.43 419.82 85.97 419.82 85.97 421.18 64.43 421.18zM71.16 411.82 82.13 411.82 82.13 413.18 71.16 413.18zM80.78 411.99 83.66 411.06 85.01 411.06 85.01 412.41 82.13 413.34 80.78 413.34zM83.66 411.06 84.62 409.22 85.97 409.22 85.97 410.57 85.01 412.41 83.66 412.41zM84.83 406.45 86.17 406.45 86.17 410.57 84.83 410.57zM83.66 404.61 85.01 404.61 85.97 406.45 85.97 407.8 84.62 407.8 83.66 405.96zM80.78 401.84 82.13 401.84 85.01 404.61 85.01 405.96 83.66 405.96 80.78 403.19zM71.16 401.82 85.97 401.82 85.97 403.18 71.16 403.18zM71.16 394.82 85.97 394.82 85.97 396.18 71.16 396.18zM72.12 391.7 73.47 391.7 76.36 394.47 76.36 395.82 75.01 395.82 72.12 393.05zM71.16 389.86 72.51 389.86 73.47 391.7 73.47 393.05 72.12 393.05 71.16 391.21zM70.83 387.09 72.17 387.09 72.17 391.21 70.83 391.21zM71.16 387.09 72.12 385.25 73.47 385.25 73.47 386.6 72.51 388.44 71.16 388.44zM72.12 385.25 75.01 384.33 76.36 384.33 76.36 385.68 73.47 386.6 72.12 386.6zM75.01 384.82 85.97 384.82 85.97 386.18 75.01 386.18zM72.12 381.56 73.47 381.56 76.36 384.33 76.36 385.68 75.01 385.68 72.12 382.91zM71.16 379.72 72.51 379.72 73.47 381.56 73.47 382.91 72.12 382.91 71.16 381.07zM70.83 376.95 72.17 376.95 72.17 381.07 70.83 381.07zM71.16 376.95 72.12 375.11 73.47 375.11 73.47 376.46 72.51 378.3 71.16 378.3zM72.12 375.11 75.01 374.18 76.36 374.18 76.36 375.53 73.47 376.46 72.12 376.46zM75.01 373.82 85.97 373.82 85.97 375.18 75.01 375.18zM64.43 366.82 85.97 366.82 85.97 368.18 64.43 368.18zM72.12 364.96 73.47 364.96 75.4 366.81 75.4 368.16 74.05 368.16 72.12 366.31zM71.16 363.12 72.51 363.12 73.47 364.96 73.47 366.31 72.12 366.31 71.16 364.47zM70.83 360.35 72.17 360.35 72.17 364.47 70.83 364.47zM71.16 360.35 72.12 358.51 73.47 358.51 73.47 359.86 72.51 361.7 71.16 361.7zM72.12 358.51 74.05 356.67 75.4 356.67 75.4 358.02 73.47 359.86 72.12 359.86zM74.05 356.67 76.93 355.74 78.28 355.74 78.28 357.09 75.4 358.02 74.05 358.02zM76.93 355.82 80.21 355.82 80.21 357.18 76.93 357.18zM78.86 355.74 80.21 355.74 83.09 356.67 83.09 358.02 81.74 358.02 78.86 357.09zM81.74 356.67 83.09 356.67 85.01 358.51 85.01 359.86 83.66 359.86 81.74 358.02zM83.66 358.51 85.01 358.51 85.97 360.35 85.97 361.7 84.62 361.7 83.66 359.86zM84.83 360.35 86.17 360.35 86.17 364.47 84.83 364.47zM83.66 364.96 84.62 363.12 85.97 363.12 85.97 364.47 85.01 366.31 83.66 366.31zM81.74 366.81 83.66 364.96 85.01 364.96 85.01 366.31 83.09 368.16 81.74 368.16zM76.83 339.15 78.17 339.15 78.17 351.56 76.83 351.56zM75.01 338.82 78.28 338.82 78.28 340.18 75.01 340.18zM73.09 340.07 75.01 339.15 76.36 339.15 76.36 340.5 74.44 341.42 73.09 341.42zM72.12 340.99 73.09 340.07 74.44 340.07 74.44 341.42 73.47 342.34 72.12 342.34zM71.16 342.84 72.12 340.99 73.47 340.99 73.47 342.34 72.51 344.19 71.16 344.19zM70.83 342.84 72.17 342.84 72.17 346.95 70.83 346.95zM71.16 345.6 72.51 345.6 73.47 347.45 73.47 348.8 72.12 348.8 71.16 346.95zM72.12 347.45 73.47 347.45 75.4 349.29 75.4 350.64 74.05 350.64 72.12 348.8zM74.05 349.29 75.4 349.29 78.28 350.21 78.28 351.56 76.93 351.56 74.05 350.64zM76.93 349.82 80.21 349.82 80.21 351.18 76.93 351.18zM78.86 350.21 81.74 349.29 83.09 349.29 83.09 350.64 80.21 351.56 78.86 351.56zM81.74 349.29 83.66 347.45 85.01 347.45 85.01 348.8 83.09 350.64 81.74 350.64zM83.66 347.45 84.62 345.6 85.97 345.6 85.97 346.95 85.01 348.8 83.66 348.8zM84.83 342.84 86.17 342.84 86.17 346.95 84.83 346.95zM83.66 340.99 85.01 340.99 85.97 342.84 85.97 344.19 84.62 344.19 83.66 342.34zM81.74 339.15 83.09 339.15 85.01 340.99 85.01 342.34 83.66 342.34 81.74 340.5zM71.16 332.82 85.97 332.82 85.97 334.18 71.16 334.18zM74.05 331.77 75.4 331.77 78.28 332.69 78.28 334.04 76.93 334.04 74.05 333.12zM72.12 329.93 73.47 329.93 75.4 331.77 75.4 333.12 74.05 333.12 72.12 331.28zM71.16 328.08 72.51 328.08 73.47 329.93 73.47 331.28 72.12 331.28 71.16 329.43zM70.83 325.32 72.17 325.32 72.17 329.43 70.83 329.43zM60.58 305.96 61.93 305.96 92.71 322.55 92.71 323.9 91.36 323.9 60.58 307.31zM64.43 300.82 85.97 300.82 85.97 302.18 64.43 302.18zM64.83 293.97 66.17 293.97 66.17 301.77 64.83 301.77zM64.43 293.97 65.39 291.2 66.74 291.2 66.74 292.55 65.78 295.32 64.43 295.32zM65.39 291.2 67.32 289.36 68.67 289.36 68.67 290.71 66.74 292.55 65.39 292.55zM67.32 289.36 69.24 288.44 70.59 288.44 70.59 289.79 68.67 290.71 67.32 290.71zM69.24 288.44 72.12 287.52 73.47 287.52 73.47 288.87 70.59 289.79 69.24 289.79zM72.12 287.82 78.28 287.82 78.28 289.18 72.12 289.18zM76.93 287.52 78.28 287.52 81.17 288.44 81.17 289.79 79.82 289.79 76.93 288.87zM79.82 288.44 81.17 288.44 83.09 289.36 83.09 290.71 81.74 290.71 79.82 289.79zM81.74 289.36 83.09 289.36 85.01 291.2 85.01 292.55 83.66 292.55 81.74 290.71zM83.66 291.2 85.01 291.2 85.97 293.97 85.97 295.32 84.62 295.32 83.66 292.55zM84.83 293.97 86.17 293.97 86.17 301.77 84.83 301.77zM76.83 270.92 78.17 270.92 78.17 283.33 76.83 283.33zM75.01 270.82 78.28 270.82 78.28 272.18 75.01 272.18zM73.09 271.84 75.01 270.92 76.36 270.92 76.36 272.27 74.44 273.19 73.09 273.19zM72.12 272.76 73.09 271.84 74.44 271.84 74.44 273.19 73.47 274.11 72.12 274.11zM71.16 274.61 72.12 272.76 73.47 272.76 73.47 274.11 72.51 275.96 71.16 275.96zM70.83 274.61 72.17 274.61 72.17 278.72 70.83 278.72zM71.16 277.37 72.51 277.37 73.47 279.22 73.47 280.57 72.12 280.57 71.16 278.72zM72.12 279.22 73.47 279.22 75.4 281.06 75.4 282.41 74.05 282.41 72.12 280.57zM74.05 281.06 75.4 281.06 78.28 281.98 78.28 283.33 76.93 283.33 74.05 282.41zM76.93 281.82 80.21 281.82 80.21 283.18 76.93 283.18zM78.86 281.98 81.74 281.06 83.09 281.06 83.09 282.41 80.21 283.33 78.86 283.33zM81.74 281.06 83.66 279.22 85.01 279.22 85.01 280.57 83.09 282.41 81.74 282.41zM83.66 279.22 84.62 277.37 85.97 277.37 85.97 278.72 85.01 280.57 83.66 280.57zM84.83 274.61 86.17 274.61 86.17 278.72 84.83 278.72zM83.66 272.76 85.01 272.76 85.97 274.61 85.97 275.96 84.62 275.96 83.66 274.11zM81.74 270.92 83.09 270.92 85.01 272.76 85.01 274.11 83.66 274.11 81.74 272.27zM71.16 253.82 87.9 253.82 87.9 255.18 71.16 255.18zM86.55 254.32 87.9 254.32 90.78 255.25 90.78 256.6 89.43 256.6 86.55 255.67zM89.43 255.25 90.78 255.25 91.74 256.17 91.74 257.52 90.39 257.52 89.43 256.6zM90.39 256.17 91.74 256.17 92.71 258.01 92.71 259.36 91.36 259.36 90.39 257.52zM91.83 258.01 93.17 258.01 93.17 262.13 91.83 262.13zM90.39 262.62 91.36 260.78 92.71 260.78 92.71 262.13 91.74 263.97 90.39 263.97zM72.12 256.17 74.05 254.32 75.4 254.32 75.4 255.67 73.47 257.52 72.12 257.52zM71.16 258.01 72.12 256.17 73.47 256.17 73.47 257.52 72.51 259.36 71.16 259.36zM70.83 258.01 72.17 258.01 72.17 262.13 70.83 262.13zM71.16 260.78 72.51 260.78 73.47 262.62 73.47 263.97 72.12 263.97 71.16 262.13zM72.12 262.62 73.47 262.62 75.4 264.47 75.4 265.82 74.05 265.82 72.12 263.97zM74.05 264.47 75.4 264.47 78.28 265.39 78.28 266.74 76.93 266.74 74.05 265.82zM76.93 265.82 80.21 265.82 80.21 267.18 76.93 267.18zM78.86 265.39 81.74 264.47 83.09 264.47 83.09 265.82 80.21 266.74 78.86 266.74zM81.74 264.47 83.66 262.62 85.01 262.62 85.01 263.97 83.09 265.82 81.74 265.82zM83.66 262.62 84.62 260.78 85.97 260.78 85.97 262.13 85.01 263.97 83.66 263.97zM84.83 258.01 86.17 258.01 86.17 262.13 84.83 262.13zM83.66 256.17 85.01 256.17 85.97 258.01 85.97 259.36 84.62 259.36 83.66 257.52zM81.74 254.32 83.09 254.32 85.01 256.17 85.01 257.52 83.66 257.52 81.74 255.67zM71.16 246.82 85.97 246.82 85.97 248.18 71.16 248.18zM74.05 246.03 75.4 246.03 78.28 246.95 78.28 248.3 76.93 248.3 74.05 247.38zM72.12 244.18 73.47 244.18 75.4 246.03 75.4 247.38 74.05 247.38 72.12 245.53zM71.16 242.34 72.51 242.34 73.47 244.18 73.47 245.53 72.12 245.53 71.16 243.69zM70.83 239.57 72.17 239.57 72.17 243.69 70.83 243.69zM76.83 224.82 78.17 224.82 78.17 237.23 76.83 237.23zM75.01 224.82 78.28 224.82 78.28 226.18 75.01 226.18zM73.09 225.74 75.01 224.82 76.36 224.82 76.36 226.17 74.44 227.09 73.09 227.09zM72.12 226.66 73.09 225.74 74.44 225.74 74.44 227.09 73.47 228.01 72.12 228.01zM71.16 228.51 72.12 226.66 73.47 226.66 73.47 228.01 72.51 229.86 71.16 229.86zM70.83 228.51 72.17 228.51 72.17 232.62 70.83 232.62zM71.16 231.27 72.51 231.27 73.47 233.12 73.47 234.47 72.12 234.47 71.16 232.62zM72.12 233.12 73.47 233.12 75.4 234.96 75.4 236.31 74.05 236.31 72.12 234.47zM74.05 234.96 75.4 234.96 78.28 235.88 78.28 237.23 76.93 237.23 74.05 236.31zM76.93 235.82 80.21 235.82 80.21 237.18 76.93 237.18zM78.86 235.88 81.74 234.96 83.09 234.96 83.09 236.31 80.21 237.23 78.86 237.23zM81.74 234.96 83.66 233.12 85.01 233.12 85.01 234.47 83.09 236.31 81.74 236.31zM83.66 233.12 84.62 231.27 85.97 231.27 85.97 232.62 85.01 234.47 83.66 234.47zM84.83 228.51 86.17 228.51 86.17 232.62 84.83 232.62zM83.66 226.66 85.01 226.66 85.97 228.51 85.97 229.86 84.62 229.86 83.66 228.01zM81.74 224.82 83.09 224.82 85.01 226.66 85.01 228.01 83.66 228.01 81.74 226.17zM76.83 208.22 78.17 208.22 78.17 220.64 76.83 220.64zM75.01 207.82 78.28 207.82 78.28 209.18 75.01 209.18zM73.09 209.15 75.01 208.22 76.36 208.22 76.36 209.57 74.44 210.5 73.09 210.5zM72.12 210.07 73.09 209.15 74.44 209.15 74.44 210.5 73.47 211.42 72.12 211.42zM71.16 211.91 72.12 210.07 73.47 210.07 73.47 211.42 72.51 213.26 71.16 213.26zM70.83 211.91 72.17 211.91 72.17 216.03 70.83 216.03zM71.16 214.68 72.51 214.68 73.47 216.52 73.47 217.87 72.12 217.87 71.16 216.03zM72.12 216.52 73.47 216.52 75.4 218.37 75.4 219.72 74.05 219.72 72.12 217.87zM74.05 218.37 75.4 218.37 78.28 219.29 78.28 220.64 76.93 220.64 74.05 219.72zM76.93 218.82 80.21 218.82 80.21 220.18 76.93 220.18zM78.86 219.29 81.74 218.37 83.09 218.37 83.09 219.72 80.21 220.64 78.86 220.64zM81.74 218.37 83.66 216.52 85.01 216.52 85.01 217.87 83.09 219.72 81.74 219.72zM83.66 216.52 84.62 214.68 85.97 214.68 85.97 216.03 85.01 217.87 83.66 217.87zM84.83 211.91 86.17 211.91 86.17 216.03 84.83 216.03zM83.66 210.07 85.01 210.07 85.97 211.91 85.97 213.26 84.62 213.26 83.66 211.42zM81.74 208.22 83.09 208.22 85.01 210.07 85.01 211.42 83.66 211.42 81.74 209.57zM69.24 200.85 70.59 200.85 77.32 205.46 77.32 206.81 75.97 206.81 69.24 202.2zM69.24 200.85 75.97 196.24 77.32 196.24 77.32 197.59 70.59 202.2 69.24 202.2zM68.28 192.82 70.59 192.82 70.59 194.18 68.28 194.18zM66.35 191.63 67.7 191.63 69.63 192.55 69.63 193.9 68.28 193.9 66.35 192.98zM65.39 190.71 66.74 190.71 67.7 191.63 67.7 192.98 66.35 192.98 65.39 192.06zM64.43 188.86 65.78 188.86 66.74 190.71 66.74 192.06 65.39 192.06 64.43 190.21zM64.83 185.17 66.17 185.17 66.17 190.21 64.83 190.21zM64.43 185.17 65.39 183.33 66.74 183.33 66.74 184.68 65.78 186.52 64.43 186.52zM65.39 183.33 66.35 182.41 67.7 182.41 67.7 183.76 66.74 184.68 65.39 184.68zM66.35 182.41 68.28 181.49 69.63 181.49 69.63 182.84 67.7 183.76 66.35 183.76zM68.28 181.82 71.55 181.82 71.55 183.18 68.28 183.18zM70.2 181.49 71.55 181.49 73.47 182.41 73.47 183.76 72.12 183.76 70.2 182.84zM72.12 182.41 73.47 182.41 76.36 184.25 76.36 185.6 75.01 185.6 72.12 183.76zM75.01 184.25 76.36 184.25 85.97 193.47 85.97 194.82 84.62 194.82 75.01 185.6zM84.83 180.56 86.17 180.56 86.17 194.82 84.83 194.82zM60.58 168.82 92.71 168.82 92.71 170.18 60.58 170.18zM60.83 168.58 62.17 168.58 62.17 176.38 60.83 176.38zM91.83 168.58 93.17 168.58 93.17 176.38 91.83 176.38z" fill="#000" stroke="none"/><path d="M63.48 493.8 l1.63 -1.63 l1.63 1.63 l-1.63 1.63 z" fill="#000" stroke="none" shape-rendering="auto"/>
<path d="M297.68 74.16 L297.68 93 M297.68 74.16 L305.96 74.16 L308.72 75.06 L309.64 75.96 L310.56 77.75 L310.56 80.44 L309.64 82.24 L308.72 83.13 L305.96 84.03 L297.68 84.03 M327.12 80.44 L327.12 93 M327.12 83.13 L325.28 81.34 L323.44 80.44 L320.68 80.44 L318.84 81.34 L317 83.13 L316.08 85.82 L316.08 87.62 L317 90.31 L318.84 92.1 L320.68 93 L323.44 93 L325.28 92.1 L327.12 90.31 M334.48 80.44 L334.48 93 M334.48 85.82 L335.4 83.13 L337.24 81.34 L339.08 80.44 L341.84 80.44 M345.52 85.82 L356.56 85.82 L356.56 84.03 L355.64 82.24 L354.72 81.34 L352.88 80.44 L350.12 80.44 L348.28 81.34 L346.44 83.13 L345.52 85.82 L345.52 87.62 L346.44 90.31 L348.28 92.1 L350.12 93 L352.88 93 L354.72 92.1 L356.56 90.31 M363 80.44 L363 93 M363 84.03 L365.76 81.34 L367.6 80.44 L370.36 80.44 L372.2 81.34 L373.12 84.03 L373.12 93 M381.4 74.16 L381.4 89.41 L382.32 92.1 L384.16 93 L386 93 M378.64 80.44 L385.08 80.44 M406.24 80.44 L406.24 99.28 M406.24 83.13 L408.08 81.34 L409.92 80.44 L412.68 80.44 L414.52 81.34 L416.36 83.13 L417.28 85.82 L417.28 87.62 L416.36 90.31 L414.52 92.1 L412.68 93 L409.92 93 L408.08 92.1 L406.24 90.31 M427.4 80.44 L425.56 81.34 L423.72 83.13 L422.8 85.82 L422.8 87.62 L423.72 90.31 L425.56 92.1 L427.4 93 L430.16 93 L432 92.1 L433.84 90.31 L434.76 87.62 L434.76 85.82 L433.84 83.13 L432 81.34 L430.16 80.44 L427.4 80.44 M441.2 80.44 L441.2 99.28 M441.2 83.13 L443.04 81.34 L444.88 80.44 L447.64 80.44 L449.48 81.34 L451.32 83.13 L452.24 85.82 L452.24 87.62 L451.32 90.31 L449.48 92.1 L447.64 93 L444.88 93 L443.04 92.1 L441.2 90.31 M458.68 80.44 L458.68 89.41 L459.6 92.1 L461.44 93 L464.2 93 L466.04 92.1 L468.8 89.41 M468.8 80.44 L468.8 93 M476.16 74.16 L476.16 93 M493.64 80.44 L493.64 93 M493.64 83.13 L491.8 81.34 L489.96 80.44 L487.2 80.44 L485.36 81.34 L483.52 83.13 L482.6 85.82 L482.6 87.62 L483.52 90.31 L485.36 92.1 L487.2 93 L489.96 93 L491.8 92.1 L493.64 90.31 M501.92 74.16 L501.92 89.41 L502.84 92.1 L504.68 93 L506.52 93 M499.16 80.44 L505.6 80.44 M512.04 80.44 L512.04 93 M523.08 80.44 L521.24 81.34 L519.4 83.13 L518.48 85.82 L518.48 87.62 L519.4 90.31 L521.24 92.1 L523.08 93 L525.84 93 L527.68 92.1 L529.52 90.31 L530.44 87.62 L530.44 85.82 L529.52 83.13 L527.68 81.34 L525.84 80.44 L523.08 80.44 M536.88 80.44 L536.88 93 M536.88 84.03 L539.64 81.34 L541.48 80.44 L544.24 80.44 L546.08 81.34 L547 84.03 L547 93 M569.08 70.58 L552.52 99.28 M576.44 77.75 L578.28 76.85 L581.04 74.16 L581.04 93 M597.6 74.16 L594.84 75.06 L593 77.75 L592.08 82.24 L592.08 84.93 L593 89.41 L594.84 92.1 L597.6 93 L599.44 93 L602.2 92.1 L604.04 89.41 L604.96 84.93 L604.96 82.24 L604.04 77.75 L602.2 75.06 L599.44 74.16 L597.6 74.16 M616 74.16 L613.24 75.06 L611.4 77.75 L610.48 82.24 L610.48 84.93 L611.4 89.41 L613.24 92.1 L616 93 L617.84 93 L620.6 92.1 L622.44 89.41 L623.36 84.93 L623.36 82.24 L622.44 77.75 L620.6 75.06 L617.84 74.16 L616 74.16" stroke-width="2" stroke-linecap="butt"/><path d="M509.77 74.16 l2.27 -2.27 l2.27 2.27 l-2.27 2.27 z" fill="#000" stroke="none" shape-rendering="auto"/>
<path d="M302.28 113.16 L294.92 132 M302.28 113.16 L309.64 132 M297.68 125.72 L306.88 125.72 M314.24 113.16 L314.24 132 M321.6 113.16 L321.6 132 M343.68 113.16 L343.68 132 M350.12 124.82 L361.16 124.82 L361.16 123.03 L360.24 121.24 L359.32 120.34 L357.48 119.44 L354.72 119.44 L352.88 120.34 L351.04 122.13 L350.12 124.82 L350.12 126.62 L351.04 129.31 L352.88 131.1 L354.72 132 L357.48 132 L359.32 131.1 L361.16 129.31 M367.6 119.44 L367.6 132 M367.6 123.03 L370.36 120.34 L372.2 119.44 L374.96 119.44 L376.8 120.34 L377.72 123.03 L377.72 132 M394.28 122.13 L393.36 120.34 L390.6 119.44 L387.84 119.44 L385.08 120.34 L384.16 122.13 L385.08 123.93 L386.92 124.82 L391.52 125.72 L393.36 126.62 L394.28 128.41 L394.28 129.31 L393.36 131.1 L390.6 132 L387.84 132 L385.08 131.1 L384.16 129.31 M399.8 124.82 L410.84 124.82 L410.84 123.03 L409.92 121.24 L409 120.34 L407.16 119.44 L404.4 119.44 L402.56 120.34 L400.72 122.13 L399.8 124.82 L399.8 126.62 L400.72 129.31 L402.56 131.1 L404.4 132 L407.16 132 L409 131.1 L410.84 129.31 M426.48 122.13 L425.56 120.34 L422.8 119.44 L420.04 119.44 L417.28 120.34 L416.36 122.13 L417.28 123.93 L419.12 124.82 L423.72 125.72 L425.56 126.62 L426.48 128.41 L426.48 129.31 L425.56 131.1 L422.8 132 L420.04 132 L417.28 131.1 L416.36 129.31" stroke-width="2" stroke-linecap="butt"/>
<path d="M297.68 158.44 L297.68 171 M297.68 163.82 L298.6 161.13 L300.44 159.34 L302.28 158.44 L305.04 158.44 M314.72 169.73 L314.72 177.7 M314.72 171.43 L313.55 170.3 L312.39 169.73 L310.63 169.73 L309.47 170.3 L308.3 171.43 L307.71 173.14 L307.71 174.28 L308.3 175.99 L309.47 177.13 L310.63 177.7 L312.39 177.7 L313.55 177.13 L314.72 175.99 M319.4 169.73 L319.4 177.7 M319.4 173.14 L319.98 171.43 L321.15 170.3 L322.32 169.73 L324.07 169.73 M333.42 171.43 L332.25 170.3 L331.08 169.73 L329.33 169.73 L328.16 170.3 L326.99 171.43 L326.41 173.14 L326.41 174.28 L326.99 175.99 L328.16 177.13 L329.33 177.7 L331.08 177.7 L332.25 177.13 L333.42 175.99 M353.57 152.16 L338.85 157.72 L353.57 163.29 L353.57 166.07 L341.15 166.07 M341.15 171 L353.57 171 M362.77 155.75 L364.61 154.85 L367.37 152.16 L367.37 171 M398.65 152.16 L389.45 152.16 L388.53 160.24 L389.45 159.34 L392.21 158.44 L394.97 158.44 L397.73 159.34 L399.57 161.13 L400.49 163.82 L400.49 165.62 L399.57 168.31 L397.73 170.1 L394.97 171 L392.21 171 L389.45 170.1 L388.53 169.21 L387.61 167.41 M406.93 152.16 L406.93 158.44 M414.29 152.16 L414.29 158.44" stroke-width="2" stroke-linecap="butt"/><path d="M377.98 170.1 l2.27 -2.27 l2.27 2.27 l-2.27 2.27 z" fill="#000" stroke="none" shape-rendering="auto"/>
<path d="M297.68 197.44 L297.68 210 M297.68 202.82 L298.6 200.13 L300.44 198.34 L302.28 197.44 L305.04 197.44 M314.72 208.73 L314.72 216.7 M314.72 210.43 L313.55 209.3 L312.39 208.73 L310.63 208.73 L309.47 209.3 L308.3 210.43 L307.71 212.14 L307.71 213.28 L308.3 214.99 L309.47 216.13 L310.63 216.7 L312.39 216.7 L313.55 216.13 L314.72 214.99 M319.4 208.73 L319.4 216.7 M319.4 212.14 L319.98 210.43 L321.15 209.3 L322.32 208.73 L324.07 208.73 M333.42 210.43 L332.25 209.3 L331.08 208.73 L329.33 208.73 L328.16 209.3 L326.99 210.43 L326.41 212.14 L326.41 213.28 L326.99 214.99 L328.16 216.13 L329.33 216.7 L331.08 216.7 L332.25 216.13 L333.42 214.99 M338.85 193.85 L353.57 201.93 L338.85 210 M362.77 194.75 L364.61 193.85 L367.37 191.16 L367.37 210 M398.65 191.16 L389.45 191.16 L388.53 199.24 L389.45 198.34 L392.21 197.44 L394.97 197.44 L397.73 198.34 L399.57 200.13 L400.49 202.82 L400.49 204.62 L399.57 207.31 L397.73 209.1 L394.97 210 L392.21 210 L389.45 209.1 L388.53 208.21 L387.61 206.41 M406.93 191.16 L406.93 197.44 M414.29 191.16 L414.29 197.44" stroke-width="2" stroke-linecap="butt"/><path d="M377.98 209.1 l2.27 -2.27 l2.27 2.27 l-2.27 2.27 z" fill="#000" stroke="none" shape-rendering="auto"/>
</g>
<g>
<text x="294" y="92" font-size="25" text-anchor="start">Parent population/100</text>
<text x="294" y="131" font-size="25" text-anchor="start">All lenses</text>
<text x="294" y="170" font-size="25" text-anchor="start">r<tspan dy="7" font-size="15">arc</tspan><tspan dy="-7">≦1.5''</tspan></text>
<text x="294" y="209" font-size="25" text-anchor="start">r<tspan dy="7" font-size="15">arc</tspan><tspan dy="-7">&gt;1.5''</tspan></text>
<text x="165" y="104" font-size="25" text-anchor="end">150</text>
<text x="165" y="298" font-size="25" text-anchor="end">100</text>
<text x="165" y="492" font-size="25" text-anchor="end">50</text>
<text x="165" y="675" font-size="25" text-anchor="end">0</text>
<text x="255" y="716" font-size="25" text-anchor="middle">outside r<tspan dy="7" font-size="15">500</tspan></text>
<text x="655" y="716" font-size="25" text-anchor="middle">inside r<tspan dy="7" font-size="15">500</tspan></text>
<text x="85" y="365" font-size="25" text-anchor="middle" transform="rotate(-90 85 365)">Density [Number/Degree^2]</text>
</g>
</svg>
</body></html>
